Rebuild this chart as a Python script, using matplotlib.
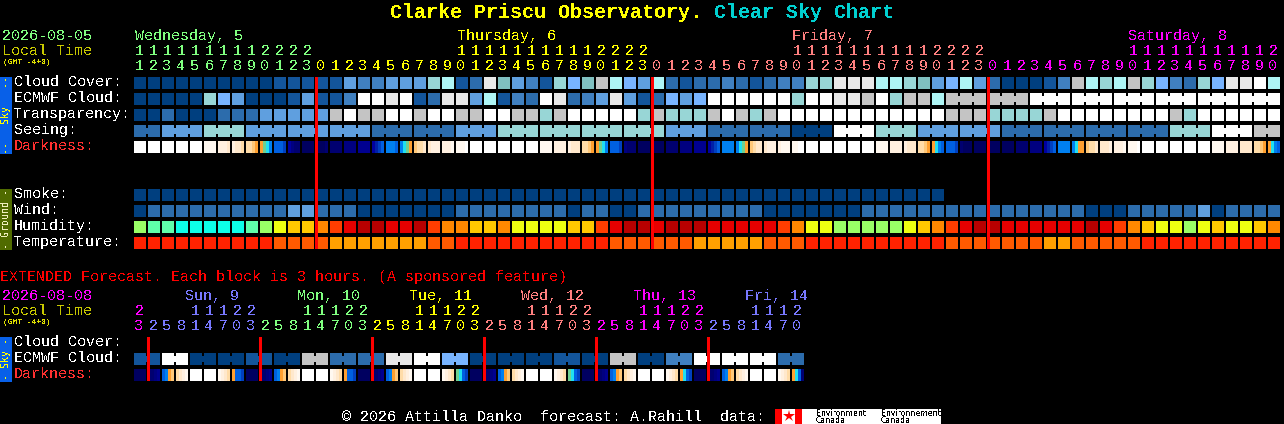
import matplotlib
matplotlib.use('Agg')
import matplotlib.pyplot as plt
import numpy as np

# Hour labels
hours_main = list(range(11, 24)) + list(range(24)) + list(range(24)) + list(range(21))
hours_ext = [23] + [2, 5, 8, 11, 14, 17, 20, 23] * 5 + [2, 5, 8, 11, 14, 17, 20]

# Colour classes used by the sky rows
sky_colors = ['#003f7f', '#13559b', '#2c6cac', '#4080c0', '#5f9fdf', '#78b4ff',
              '#aef5f5', '#98d6d6', '#80c0c0', '#c4c4c4', '#e8e8e8', '#ffffff']
humidity_colors = ['#99ff66', '#5fffaa', '#0dffe8', '#eeff11', '#ffc800',
                   '#ff8800', '#ff3d00', '#e60000', '#b80000']
temp_colors = ['#ff2200', '#ff5a00', '#ffa000']
dark_colors = {'a': '#ffffff', 'b': '#fff8f0', 'c': '#fff0e0', 'd': '#ffe8cc', 'e': '#ffdca8',
               'f': '#ffc878', 'g': '#ffa030', 'h': '#70d090', 'i': '#20e0f0', 'j': '#0080f0',
               'k': '#0060e0', 'l': '#0040c0', 'm': '#0020a8', 'n': '#0000a0', 'o': '#000090',
               'p': '#000080', 'q': '#000070', 'r': '#000060'}

cloud = [0, 0, 0, 0, 0, 0, 0, 0, 0, 0, 1, 1, 1, 1, 1, 4, 3, 3, 4, 4, 4, 7, 6, 1, 2, 10, 8, 4,
         3, 1, 7, 5, 8, 9, 6, 5, 4, 6, 2, 1, 2, 2, 3, 2, 1, 2, 3, 3, 7, 7, 10, 10, 10, 6, 6, 7,
         8, 4, 5, 6, 4, 2, 0, 0, 0, 1, 3, 9, 6, 7, 6, 9, 7, 5, 3, 2, 7, 5, 10, 10, 11, 6]
ecmwf = [0, 0, 0, 0, 0, 7, 5, 4, 0, 0, 0, 1, 4, 1, 1, 3, 11, 11, 10, 11, 1, 2, 10, 10, 4, 6, 1, 3,
         2, 11, 10, 2, 3, 4, 10, 4, 1, 2, 5, 4, 5, 11, 11, 11, 11, 11, 11, 7, 11, 11, 10, 10, 9, 11, 7, 9,
         9, 6, 9, 9, 9, 9, 9, 9, 11, 11, 11, 11, 11, 11, 11, 11, 11, 11, 11, 11, 11, 11, 11, 11, 11, 11]
transparency = [0, 0, 2, 0, 0, 0, 2, 2, 2, 4, 4, 4, 4, 4, 9, 11, 9, 9, 11, 11, 9, 11, 11, 9, 9, 11, 11, 9,
                9, 7, 9, 11, 11, 11, 11, 11, 7, 9, 7, 7, 7, 9, 11, 9, 7, 9, 11, 11, 11, 11, 11, 11, 11, 11, 11, 11,
                11, 11, 9, 9, 9, 7, 7, 7, 7, 9, 11, 11, 11, 11, 11, 11, 11, 11, 9, 7, 11, 11, 11, 11, 11, 11]
seeing = [2, 2, 4, 4, 4, 7, 7, 7, 4, 4, 4, 4, 4, 4, 4, 4, 4, 2, 2, 2, 2, 2, 2, 4, 4, 4, 7, 7,
          7, 7, 7, 7, 7, 7, 7, 7, 7, 7, 4, 4, 4, 2, 2, 2, 2, 2, 2, 0, 0, 0, 11, 11, 11, 7, 7, 7,
          4, 4, 4, 4, 4, 4, 2, 2, 2, 2, 2, 2, 2, 2, 2, 2, 2, 2, 7, 7, 7, 11, 11, 11, 9, 9]
darkness = ['aaaa', 'aaaa', 'aaaa', 'aaaa', 'aaaa', 'bbbb', 'cccd', 'cdde', 'eefg', 'ghij', 'kkkl', 'npqq',
            'rrrr', 'rrrq', 'qqqq', 'pppp', 'oooo', 'nmlk', 'jjjk', 'jihg', 'feed', 'dccc', 'cccb', 'bbba',
            'aaaa', 'aaaa', 'aaaa', 'aaaa', 'aaaa', 'bbbb', 'cccc', 'cddd', 'eefg', 'ghij', 'kkkl', 'pqqq',
            'rrrr', 'rrrr', 'qqqq', 'pppp', 'oooo', 'nmlk', 'jjjj', 'jihg', 'fedd', 'dccc', 'cbbb', 'bbaa',
            'aaaa', 'aaaa', 'aaaa', 'aaaa', 'aaaa', 'bbbb', 'cccc', 'cddd', 'eefg', 'gijk', 'kkkl', 'qrrr',
            'rrrr', 'rrrr', 'rrrr', 'qqqq', 'pppp', 'nmlk', 'jjjj', 'jigg', 'feed', 'dddc', 'cccb', 'bbba',
            'aaaa', 'aaaa', 'aaaa', 'aaaa', 'aaaa', 'bbbb', 'cccc', 'dddd', 'eefg', 'gijk']
smoke = [0] * 58
wind = [0, 2, 2, 2, 2, 2, 2, 2, 2, 2, 2, 4, 4, 2, 2, 2, 0, 0, 0, 0, 0, 0, 0, 2, 2, 2, 2, 2,
        2, 2, 2, 0, 2, 2, 0, 0, 2, 2, 2, 2, 2, 2, 2, 2, 2, 0, 0, 0, 0, 0, 0, 0, 2, 2, 2, 2,
        2, 2, 2, 2, 2, 2, 2, 2, 2, 2, 2, 2, 0, 0, 0, 2, 2, 2, 2, 2, 4, 0, 2, 2, 2, 2]
humidity = [0, 1, 1, 2, 2, 2, 2, 2, 1, 0, 3, 4, 4, 5, 6, 7, 8, 8, 7, 7, 8, 6, 5, 5, 4, 4, 5, 3,
            3, 3, 3, 4, 4, 6, 7, 8, 8, 7, 8, 8, 8, 7, 7, 7, 7, 7, 6, 5, 3, 3, 0, 0, 0, 0,
            0, 3, 4, 5, 6, 7, 8, 8, 7, 7, 7, 7, 7, 7, 8, 7, 6, 5, 4, 3, 3, 0, 3, 4, 3, 3, 4, 5]
temperature = [0, 0, 0, 0, 0, 0, 0, 0, 0, 0, 1, 1, 1, 1, 2, 2, 2, 2, 2, 2, 2, 1, 1, 0, 0, 0, 0, 0,
               0, 0, 0, 0, 0, 0, 1, 1, 1, 1, 1, 1, 2, 2, 2, 2, 2, 1, 1, 1, 0, 0, 0, 0, 0, 0, 0, 0,
               0, 0, 1, 1, 1, 1, 1, 1, 1, 2, 2, 1, 1, 1, 1, 1, 0, 0, 0, 0, 0, 0, 0, 0, 0, 0]

ext_ecmwf = [1, 11, 0, 0, 1, 0, 9, 2, 2, 10, 11, 5, 0, 0, 0, 1, 0, 9, 0, 3, 11, 11, 11, 2]
ext_darkness = ['rrrr', 'qqpo', 'kjgf', 'edcb', 'aaaa', 'aaaa', 'bcde', 'gkkl',
                'rrrr', 'qqpo', 'kjgf', 'edcb', 'aaaa', 'aaaa', 'bcde', 'gkkl',
                'rrrr', 'qqpo', 'kjgf', 'edcb', 'aaaa', 'aaaa', 'bcde', 'hikl',
                'rrrr', 'qqpo', 'kjgf', 'edcb', 'aaaa', 'aaaa', 'bcde', 'hikl',
                'rrrr', 'qqpo', 'kjgf', 'edcb', 'aaaa', 'aaaa', 'bcde', 'gikl',
                'rrrr', 'qqpo', 'kjgf', 'edcb', 'aaaa', 'aaaa', 'bcde', 'gikq']

plt.rcParams['font.family'] = ['Liberation Mono', 'DejaVu Sans Mono']
plt.rcParams['text.antialiased'] = False

X0 = 134
STEP = 14
SIZE = 12
GREEN, YELLOW, SALMON, MAGENTA, BLUE = '#80ff80', '#ffff00', '#ff8080', '#ff00ff', '#7878ff'
FS = 15 * 72 / 100  # 15 px font gives the 9 px character cell

fig = plt.figure(figsize=(12.84, 4.24), dpi=100, facecolor='black')
ax = fig.add_axes([0, 0, 1, 1])
ax.set_xlim(0, 1284)
ax.set_ylim(424, 0)
ax.axis('off')


def draw_row(values, palette, top):
    xs = X0 + STEP * np.arange(len(values))
    ax.bar(xs, SIZE, SIZE, bottom=top, align='edge', color=[palette[v] for v in values],
           linewidth=0, antialiased=False)


def draw_links(values, palette, top, first, group):
    # blocks of one forecast step are joined by a short bar across the gap
    for i in range(max(first, 0), len(values) - 1):
        if (i - first + 1) % group != 0:
            ax.bar(X0 + STEP * i + SIZE, 6, 2, bottom=top + 3, align='edge',
                   color=palette[values[i]], linewidth=0, antialiased=False)


def draw_darkness(values, top):
    for i, block in enumerate(values):
        xs = X0 + STEP * i + 3 * np.arange(4)
        ax.bar(xs, SIZE, 3, bottom=top, align='edge', color=[dark_colors[c] for c in block],
               linewidth=0, antialiased=False)


def label(x, y, s, color='white', **kw):
    kw.setdefault('fontsize', FS)
    ax.text(x, y, s, color=color, va='baseline', **kw)


def hour_labels(hours, colors, y_tens, y_ones):
    for i, (h, c) in enumerate(zip(hours, colors)):
        x = X0 + STEP * i + 5
        if h >= 10:
            label(x, y_tens, str(h // 10), c, ha='center')
        label(x, y_ones, str(h % 10), c, ha='center')


# Main forecast rows
draw_row(cloud, sky_colors, 77)
draw_row(ecmwf, sky_colors, 93)
draw_links(ecmwf, sky_colors, 93, 58, 3)
draw_row(transparency, sky_colors, 109)
draw_row(seeing, sky_colors, 125)
draw_links(seeing, sky_colors, 125, -1, 3)
draw_darkness(darkness, 141)
draw_row(smoke, sky_colors, 189)
draw_row(wind, sky_colors, 205)
draw_row(humidity, humidity_colors, 221)
draw_row(temperature, temp_colors, 237)

# Extended rows
ext_blocks = np.repeat(ext_ecmwf, 2)
draw_row(ext_blocks, sky_colors, 353)
draw_links(ext_blocks, sky_colors, 353, 0, 2)
draw_darkness(ext_darkness, 369)

# Midnight lines
for i in [13, 37, 61]:
    ax.bar(X0 + STEP * i - 1, 172, 2.6, bottom=77, align='edge', color='#ff0000', linewidth=0,
           antialiased=False, zorder=5)
for i in [1, 9, 17, 25, 33, 41]:
    ax.bar(X0 + STEP * i - 1, 44, 2.6, bottom=337, align='edge', color='#ff0000', linewidth=0,
           antialiased=False, zorder=5)

# Side bars
ax.bar(0, 77, 12, bottom=77, align='edge', color='#0860e8', linewidth=0, antialiased=False)
ax.bar(0, 61, 12, bottom=189, align='edge', color='#506b00', linewidth=0, antialiased=False)
ax.bar(0, 45, 12, bottom=337, align='edge', color='#0860e8', linewidth=0, antialiased=False)
side_fs = 10 * 72 / 100
ax.text(6, 115, '--   Sky   --', color='#ffff00', rotation=90, ha='center', va='center',
        fontsize=side_fs, family='DejaVu Sans Mono')
ax.text(6, 219, '- Ground -', color='#f0f0c0', rotation=90, ha='center', va='center',
        fontsize=side_fs, family='DejaVu Sans Mono')
ax.text(6, 359, '- Sky -', color='#ffff00', rotation=90, ha='center', va='center',
        fontsize=side_fs, family='DejaVu Sans Mono')

# Title
title_fs = 20 * 72 / 100
ax.text(390, 18, 'Clarke Priscu Observatory.', color='#ffff00', fontsize=title_fs, fontweight='bold', va='baseline')
ax.text(714, 18, 'Clear Sky Chart', color='#00d0d0', fontsize=title_fs, fontweight='bold', va='baseline')

# Left labels
label(2, 40, '2026-08-05', GREEN)
label(2, 55, 'Local Time', '#c8c800')
label(3, 64, '(GMT -4+0)', '#e0e000', fontsize=8 * 72 / 100)
for y, s, c in [(86, 'Cloud Cover:', 'white'), (102, 'ECMWF Cloud:', 'white'), (118, 'Transparency:', 'white'),
                (134, 'Seeing:', 'white'), (150, 'Darkness:', '#ff3030'), (198, 'Smoke:', 'white'),
                (214, 'Wind:', 'white'), (230, 'Humidity:', 'white'), (246, 'Temperature:', 'white')]:
    label(14, y, s, c)

# Day and hour labels, main chart
label(135, 40, 'Wednesday, 5', GREEN)
label(457, 40, 'Thursday, 6', YELLOW)
label(792, 40, 'Friday, 7', SALMON)
label(1128, 40, 'Saturday, 8', MAGENTA)
main_colors = [GREEN] * 13 + [YELLOW] * 24 + [SALMON] * 24 + [MAGENTA] * 21
hour_labels(hours_main, main_colors, 55, 70)

# Extended section
label(0, 281, 'EXTENDED Forecast. Each block is 3 hours. (A sponsored feature)', '#ff0000')
label(2, 300, '2026-08-08', MAGENTA)
label(2, 315, 'Local Time', '#c8c800')
label(3, 324, '(GMT -4+0)', '#e0e000', fontsize=8 * 72 / 100)
for y, s, c in [(346, 'Cloud Cover:', 'white'), (362, 'ECMWF Cloud:', 'white'), (378, 'Darkness:', '#ff3030')]:
    label(14, y, s, c)
for x, s, c in [(185, 'Sun, 9', BLUE), (297, 'Mon, 10', GREEN), (409, 'Tue, 11', YELLOW),
                (521, 'Wed, 12', SALMON), (633, 'Thu, 13', MAGENTA), (745, 'Fri, 14', BLUE)]:
    label(x, 300, s, c)
ext_colors = [MAGENTA] + [BLUE] * 8 + [GREEN] * 8 + [YELLOW] * 8 + [SALMON] * 8 + [MAGENTA] * 8 + [BLUE] * 7
hour_labels(hours_ext, ext_colors, 315, 330)

# Footer with the logo strip
label(342, 421, '\u00a9 2026 Attilla Danko  forecast: A.Rahill  data:', 'white')
ax.bar(775, 15, 166, bottom=409, align='edge', color='white', linewidth=0, antialiased=False)
ax.bar([775, 795], 15, 7, bottom=409, align='edge', color='#ff0000', linewidth=0, antialiased=False)
ax.plot([788.5], [416], marker='*', color='#ff0000', markersize=9, markeredgewidth=0)
for x, s in [(816, 'Environment'), (881, 'Environnement')]:
    ax.text(x, 416, s, color='black', fontsize=5.6, family='DejaVu Sans', va='baseline')
    ax.text(x, 423, 'Canada', color='black', fontsize=5.6, family='DejaVu Sans', va='baseline')

fig.savefig('out.png', dpi=100, facecolor='black')
